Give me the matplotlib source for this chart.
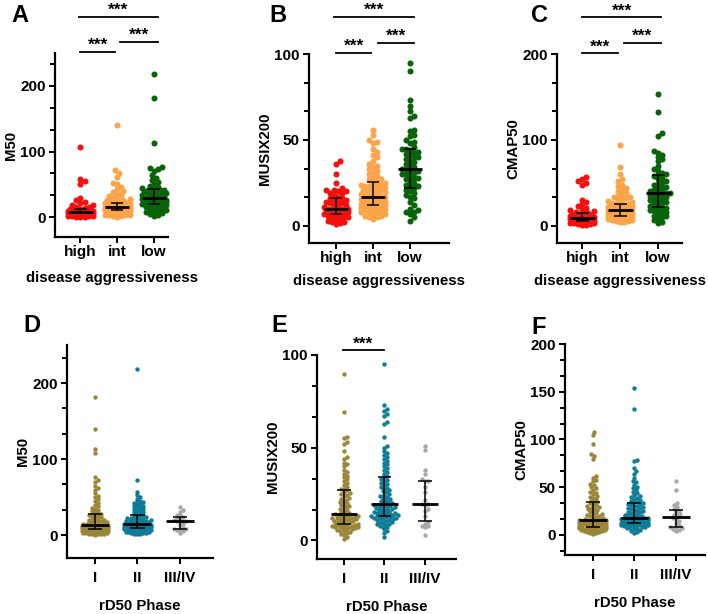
import numpy as np
import matplotlib
matplotlib.use("Agg")
import matplotlib.pyplot as plt
from matplotlib.ticker import MultipleLocator

plt.rcParams['font.family'] = ['Liberation Sans', 'DejaVu Sans']
plt.rcParams['font.weight'] = 'bold'
plt.rcParams['axes.labelweight'] = 'bold'

# ---- data ----
aggr_cats = ['high', 'int', 'low']
phase_cats = ['I', 'II', 'III/IV']

m50_high = [0.5, 1, 1, 1.5, 2, 2, 2.5, 3, 3, 3.5, 4, 4, 5, 5.5,
            6, 6, 6, 6.5, 6.5, 7, 7, 7, 7, 7.5, 7.5, 7.5, 8, 8,
            8, 8.5, 8.5, 9, 9, 9.5, 10, 10, 10.5, 11, 11, 11.5, 12, 12,
            13, 14, 15, 16, 18, 19, 21, 23, 26, 29, 50, 55, 58, 107]
m50_int = [1, 2, 2, 3, 3, 4, 4, 5, 5, 5, 6, 6, 7, 7, 8, 8, 9, 9, 10, 10, 10.5, 11,
           11, 11, 11.5, 11.5, 12, 12, 12, 12.5, 12.5, 13, 13, 13, 13.5, 13.5, 14, 14, 14, 14.5, 14.5, 15, 15, 15,
           15, 15.5, 15.5, 16, 16, 16.5, 17, 17, 17.5, 18, 18, 18.5, 19, 19, 19.5, 20, 20, 20.5, 21, 21, 21, 21,
           22, 23, 24, 25, 26, 27, 28, 29, 30, 32, 34, 36, 38, 40, 43, 46, 50, 52, 62, 68, 72, 140]
m50_low = [2, 3, 5, 6, 8, 9, 10, 11, 12, 14, 15, 16, 17, 18, 19,
           20, 20, 21, 22, 22, 23, 24, 24, 25, 26, 26, 27, 27, 28, 28, 29,
           29, 30, 31, 32, 33, 34, 35, 36, 37, 38, 39, 40, 41, 42, 42, 43,
           44, 46, 48, 50, 53, 56, 60, 64, 70, 73, 75, 76, 113, 181, 218]

musix_high = [1, 1.5, 2, 2.5, 3, 3.5, 4, 4.5, 5, 5, 5.5, 6, 6.5, 7,
              7, 7, 7.5, 7.5, 8, 8, 8, 8.5, 8.5, 9, 9, 9, 9.5, 9.5,
              9.5, 10, 10, 11, 11, 12, 12, 13, 13, 14, 14, 15, 15, 16,
              16, 17, 18, 19, 19, 20, 20, 21, 21, 22, 25, 30, 36, 38]
musix_int = [4, 5, 5, 6, 6, 7, 7, 7.5, 8, 8, 8.5, 9, 9, 9.5, 10, 10, 10.5, 11, 11, 11.5, 12, 12,
             12, 12.5, 12.5, 13, 13, 13.5, 13.5, 14, 14, 14.5, 14.5, 15, 15, 15.5, 15.5, 16, 16, 16, 16.5, 16.5, 17, 17,
             17, 17.5, 18, 18, 18.5, 19, 19, 19.5, 20, 20, 21, 21, 21.5, 22, 22, 23, 23, 23.5, 24, 24, 25, 25,
             26, 27, 27, 28, 29, 30, 31, 32, 33, 34, 35, 36, 38, 40, 41, 43, 45, 48, 49, 50, 53, 56]
musix_low = [3, 5, 7, 8, 8, 9, 10, 12, 14, 16, 17, 18, 19, 20, 21,
             22, 23, 23, 24, 25, 26, 27, 28, 28, 29, 30, 30, 31, 32, 32, 33,
             33, 34, 35, 36, 37, 38, 39, 40, 40, 41, 42, 43, 43, 44, 45, 45,
             46, 48, 49, 50, 52, 53, 55, 56, 63, 64, 67, 70, 73, 90, 95]

cmap_high = [1, 1.5, 2, 2.5, 3, 3, 3.5, 4, 4, 4.5, 5, 5, 5.5, 6,
             6, 6, 6.5, 6.5, 7, 7, 7, 7.5, 7.5, 8, 8, 8.5, 8.5, 9,
             9, 9.5, 10, 10, 11, 11, 12, 12, 13, 13, 14, 14, 15, 15,
             16, 17, 18, 20, 21, 23, 25, 28, 30, 48, 50, 52, 55, 57]
cmap_int = [5, 5, 6, 6, 7, 7, 8, 8, 8.5, 9, 9, 9.5, 10, 10, 10.5, 10.5, 11, 11, 11, 11.5, 11.5, 12,
            12, 12.5, 13, 13, 13.5, 13.5, 14, 14, 14.5, 15, 15, 15.5, 15.5, 16, 16, 16.5, 16.5, 17, 17, 17.5, 17.5, 18,
            18, 18.5, 19, 19, 19.5, 20, 20, 20.5, 21, 21, 21.5, 22, 22, 22.5, 23, 23, 23.5, 24, 24, 24.5, 25, 25,
            26, 27, 28, 29, 30, 31, 32, 33, 34, 35, 37, 38, 40, 42, 44, 46, 48, 52, 55, 60, 68, 94]
cmap_low = [3, 5, 7, 8, 10, 11, 12, 14, 15, 16, 17, 18, 19, 20, 21,
            22, 23, 24, 26, 27, 28, 29, 30, 31, 32, 33, 34, 35, 36, 37, 38,
            38, 39, 40, 41, 42, 44, 45, 46, 48, 49, 51, 52, 54, 56, 58, 59,
            60, 62, 64, 66, 70, 75, 78, 80, 83, 85, 87, 104, 108, 132, 153]

m50_p1 = [0.5, 1, 1, 1.5, 2, 2, 2.5, 3, 3, 3.5, 4, 4, 4.5, 5, 5, 5.5, 6, 6, 6.5, 7, 7, 7.5, 8, 8,
          8, 8.5, 8.5, 9, 9, 9, 9.5, 9.5, 10, 10, 10, 10.5, 10.5, 11, 11, 11, 11.5, 11.5, 12, 12, 12, 12.5, 12.5, 13,
          13, 13.5, 14, 14, 15, 15, 16, 16, 17, 17, 18, 18, 19, 20, 20, 21, 22, 23, 24, 25, 26, 26, 27, 28,
          29, 30, 32, 33, 35, 36, 38, 40, 42, 45, 48, 50, 52, 55, 60, 62, 65, 70, 72, 76, 108, 113, 139, 181]
m50_p2 = [1, 1.5, 2, 2.5, 3, 3.5, 4, 4, 4.5, 5, 5, 5.5, 6, 6, 6.5, 7, 7, 7.5, 8, 8, 8.5, 9, 9, 9.5, 10,
          10, 10, 10.5, 10.5, 11, 11, 11, 11.5, 11.5, 12, 12, 12, 12.5, 12.5, 13, 13, 13, 13.5, 13.5, 14, 14, 14, 14.5, 14.5, 15,
          15, 15.5, 15.5, 16, 16, 16.5, 17, 17, 17.5, 18, 18, 18.5, 19, 19, 20, 20, 21, 21, 22, 22, 23, 24, 24, 25, 26,
          27, 28, 29, 30, 31, 32, 33, 34, 35, 36, 37, 38, 39, 40, 41, 42, 43, 44, 45, 48, 50, 53, 57, 73, 218]
m50_p3 = [3, 5, 7, 7, 8, 8, 10, 13, 15, 17, 18, 18, 19, 20, 21, 22, 24, 27, 30, 33, 37, 26]

musix_p1 = [1, 2, 3, 3.5, 4, 4.5, 5, 5, 5.5, 6, 6, 6.5, 6.5, 7, 7, 7, 7.5, 7.5, 8, 8, 8, 8.5, 8.5, 8.5,
            9, 9, 9.5, 9.5, 10, 10, 10.5, 10.5, 11, 11, 11, 11.5, 11.5, 12, 12, 12, 12.5, 12.5, 13, 13, 13, 13.5, 13.5, 14,
            14, 14.5, 15, 15.5, 16, 16.5, 17, 17.5, 18, 18.5, 19, 19.5, 20, 20.5, 21, 22, 22.5, 23, 24, 24.5, 25, 25.5, 26, 27,
            28, 28, 29, 30, 31, 32, 33, 34, 35, 36, 37, 38, 40, 41, 42, 44, 45, 48, 52, 53, 55, 56, 69, 90]
musix_p2 = [2, 4, 5, 6, 7, 7.5, 8, 8.5, 9, 9, 9.5, 10, 10, 10.5, 11, 11, 11.5, 11.5, 12, 12, 12, 12.5, 12.5, 13, 13,
            13, 13.5, 13.5, 14, 14, 14.5, 14.5, 15, 15, 15.5, 15.5, 16, 16, 16.5, 17, 17, 17.5, 17.5, 18, 18, 18.5, 18.5, 19, 19, 19.5,
            19.5, 20, 20.5, 21, 21.5, 22, 22.5, 23, 23.5, 24, 24.5, 25, 26, 26.5, 27, 28, 28.5, 29, 30, 30.5, 31, 32, 32.5, 33, 34,
            35, 36, 37, 38, 39, 40, 41, 42, 43, 44, 45, 46, 47, 48, 50, 51, 56, 63, 64, 67, 68, 70, 71, 73, 95]
musix_p3 = [3, 7, 8, 8, 9, 10, 13, 16, 17, 19, 19.5, 19.5, 22, 26, 29, 32, 32, 33, 36, 38, 49, 51]

cmap_p1 = [1, 2, 2.5, 3, 3.5, 4, 4, 4.5, 5, 5, 5.5, 5.5, 6, 6, 6.5, 6.5, 7, 7, 7, 7.5, 7.5, 8, 8, 8,
           8.5, 9, 9, 9.5, 10, 10, 10.5, 11, 11, 11.5, 12, 12, 12.5, 13, 13, 13.5, 14, 14, 14.5, 15, 15, 15.5, 15.5, 16,
           16, 16.5, 17, 17.5, 18, 19, 19.5, 20, 21, 21.5, 22, 23, 24, 25, 26, 27, 28, 28.5, 29, 30, 31, 32, 33, 34,
           35, 36, 38, 39, 40, 41, 43, 44, 45, 47, 49, 50, 52, 53, 56, 58, 60, 62, 80, 83, 85, 95, 105, 108]
cmap_p2 = [2, 3, 4, 5, 6, 6.5, 7, 7.5, 8, 8.5, 9, 9, 9.5, 10, 10, 10.5, 10.5, 11, 11, 11, 11.5, 11.5, 12, 12, 12,
           12, 12.5, 12.5, 13, 13, 13.5, 13.5, 14, 14, 14.5, 14.5, 15, 15, 15.5, 15.5, 16, 16, 16.5, 16.5, 17, 17, 17, 17.5, 17.5, 18,
           18, 18.5, 19, 19.5, 20, 20.5, 21, 22, 22.5, 23, 24, 24.5, 25, 26, 26.5, 27, 28, 28.5, 29, 30, 30.5, 31, 32, 32.5, 33,
           34, 35, 36, 37, 38, 39, 40, 41, 42, 44, 45, 47, 49, 50, 52, 55, 57, 60, 64, 67, 70, 77, 78, 132, 154]
cmap_p3 = [4, 5, 6, 7, 8, 8, 10, 13, 15, 17, 18, 20, 21, 22, 24, 25, 27, 29, 31, 33, 47, 56]

aggr_colors = ['#f50f0f', '#fba44a', '#086408']
phase_colors = ['#9a8638', '#0d7c97', '#a8a8a8']

# panel layout in figure pixels: left, right, top, bottom
W, H = 708, 614
panels = [
    dict(letter='A', box=(55, 168, 53, 237), ylim=(-30, 250), major=100, ylabel='M50',
         cats=aggr_cats, groups=[m50_high, m50_int, m50_low], colors=aggr_colors,
         xlim=(-0.69, 2.38), xlabel='disease aggressiveness', ms=19, xpad=1, lpad=9,
         sig=[(-0.03, 2.1, 305), (0.0, 0.95, 252), (1.08, 2.1, 267)]),
    dict(letter='B', box=(309, 449, 54, 243), ylim=(-10, 100), major=50, ylabel='MUSIX200',
         cats=aggr_cats, groups=[musix_high, musix_int, musix_low], colors=aggr_colors,
         xlim=(-0.73, 3.05), xlabel='disease aggressiveness', ms=19, xpad=1, lpad=7,
         sig=[(-0.05, 2.1, 121.7), (0.0, 0.95, 100.7), (1.12, 2.1, 106.5)]),
    dict(letter='C', box=(557, 682, 54, 243), ylim=(-20, 200), major=100, ylabel='CMAP50',
         cats=aggr_cats, groups=[cmap_high, cmap_int, cmap_low], colors=aggr_colors,
         xlim=(-0.66, 2.63), xlabel='disease aggressiveness', ms=19, xpad=1, lpad=7,
         sig=[(0.0, 2.08, 243), (0.0, 0.95, 201), (1.1, 2.08, 213)]),
    dict(letter='D', box=(67, 213, 345, 558), ylim=(-30, 250), major=100, ylabel='M50',
         cats=phase_cats, groups=[m50_p1, m50_p2, m50_p3], colors=phase_colors,
         xlim=(-0.66, 2.78), xlabel='rD50 Phase', ms=10, xpad=5, lpad=10, sig=[]),
    dict(letter='E', box=(317, 456, 355, 559), ylim=(-10, 100), major=50, ylabel='MUSIX200',
         cats=phase_cats, groups=[musix_p1, musix_p2, musix_p3], colors=phase_colors,
         xlim=(-0.67, 2.77), xlabel='rD50 Phase', ms=10, xpad=5, lpad=10,
         sig=[(-0.03, 0.98, 102.7)]),
    dict(letter='F', box=(565, 705, 344, 555), ylim=(-21, 200), major=50, ylabel='CMAP50',
         cats=phase_cats, groups=[cmap_p1, cmap_p2, cmap_p3], colors=phase_colors,
         xlim=(-0.67, 2.7), xlabel='rD50 Phase', ms=10, xpad=5, lpad=10, sig=[]),
]


def swarm_x(ax, xc, ys, diam, maxw):
    # beeswarm in pixel space, overlapping allowed a bit
    pts = ax.transData.transform(np.column_stack([np.full(len(ys), xc), ys]))
    cx = pts[0, 0]
    order = np.argsort(pts[:, 1])
    step = diam * 0.5
    cands = [0.0]
    k = 1
    while k * step <= maxw:
        cands += [k * step, -k * step]
        k += 1
    placed = []
    xs = np.zeros(len(ys))
    for i in order:
        y = pts[i, 1]
        near = [(px, py) for px, py in placed if abs(y - py) < diam]
        best, bestgap = 0.0, -1
        for c in cands:
            gap = min([np.hypot(c - px, y - py) for px, py in near], default=np.inf)
            if gap >= diam:
                best = c
                break
            if gap > bestgap + 0.3:
                best, bestgap = c, gap
        placed.append((best, y))
        xs[i] = cx + best
    back = ax.transData.inverted().transform(np.column_stack([xs, pts[:, 1]]))
    return back[:, 0]


fig = plt.figure(figsize=(W / 100, H / 100), dpi=100)

for p in panels:
    l, r, t, b = p['box']
    ax = fig.add_axes([l / W, 1 - b / H, (r - l) / W, (b - t) / H])
    ax.set_xlim(*p['xlim'])
    ax.set_ylim(*p['ylim'])
    for s in ['top', 'right']:
        ax.spines[s].set_visible(False)
    for s in ['left', 'bottom']:
        ax.spines[s].set_linewidth(1.6)
    ax.yaxis.set_major_locator(MultipleLocator(p['major']))
    ax.yaxis.set_minor_locator(MultipleLocator(p['major'] / 3))
    ax.tick_params(axis='both', which='major', width=1.4, length=4.5, labelsize=11, pad=2)
    ax.tick_params(axis='x', which='major', pad=p['xpad'])
    ax.tick_params(axis='y', which='minor', width=1.4, length=3.5)
    ax.set_xticks(range(3))
    ax.set_xticklabels(p['cats'])
    ax.set_ylabel(p['ylabel'], fontsize=10.8, labelpad=1.5)
    ax.set_xlabel(p['xlabel'], fontsize=10.8, labelpad=p['lpad'])

    fig.canvas.draw()
    diam = np.sqrt(p['ms']) * 100 / 72
    spacing = ax.transData.transform((1, 0))[0] - ax.transData.transform((0, 0))[0]
    for i, (vals, col) in enumerate(zip(p['groups'], p['colors'])):
        vals = np.array(vals, dtype=float)
        xs = swarm_x(ax, i, vals, diam * 0.68, spacing * 0.34)
        ax.scatter(xs, vals, s=p['ms'], color=col, linewidths=0, zorder=2, clip_on=False)
        q1, med, q3 = np.percentile(vals, [25, 50, 75])
        ax.hlines(med, i - 0.33, i + 0.33, color='black', lw=2.0, zorder=4)
        ax.vlines(i, q1, q3, color='black', lw=1.1, zorder=4)
        ax.hlines([q1, q3], i - 0.17, i + 0.17, color='black', lw=1.1, zorder=4)

    for x1, x2, y in p['sig']:
        ax.plot([x1, x2], [y, y], color='black', lw=1.3, clip_on=False)
        ax.annotate('***', ((x1 + x2) / 2, y), xytext=(0, -1), textcoords='offset points',
                    ha='center', va='bottom', fontsize=12.5, annotation_clip=False)

# panel letters
letters = [('A', 11, 15), ('B', 269, 15), ('C', 531, 15), ('D', 23, 325), ('E', 271, 325), ('F', 531, 327)]
for lt, x, y in letters:
    fig.text(x / W, 1 - y / H, lt, fontsize=17, fontweight='bold', va='center', ha='left')

fig.savefig('out.png', dpi=100)
